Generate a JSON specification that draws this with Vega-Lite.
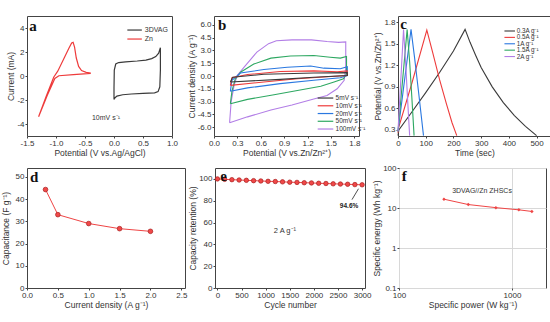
{
"$schema": "https://vega.github.io/schema/vega-lite/v6.json",
"background": "white",
"padding": {"left": 0, "top": 15, "right": 2, "bottom": 2},
"config": {
  "font": "Liberation Sans",
  "view": {"stroke": "#444", "strokeWidth": 1},
  "axis": {"domain": false, "grid": false, "labelFontSize": 8, "titleFontSize": 8.5, "titleFontWeight": "normal", "tickColor": "#444", "tickSize": 2, "labelColor": "#333", "titleColor": "#333", "labelPadding": 1, "titlePadding": 1, "labelOverlap": false, "labelFlush": false, "labelBound": false}
},
"datasets": {
"cvA": [
{"sa":"3DVAG","i":0,"x":0.0,"y":-1.95},{"sa":"3DVAG","i":1,"x":0.0,"y":-1.0},{"sa":"3DVAG","i":2,"x":0.005,"y":0.5},{"sa":"3DVAG","i":3,"x":0.03,"y":1.0},{"sa":"3DVAG","i":4,"x":0.08,"y":1.12},{"sa":"3DVAG","i":5,"x":0.2,"y":1.18},{"sa":"3DVAG","i":6,"x":0.4,"y":1.25},{"sa":"3DVAG","i":7,"x":0.55,"y":1.33},{"sa":"3DVAG","i":8,"x":0.65,"y":1.45},{"sa":"3DVAG","i":9,"x":0.72,"y":1.62},{"sa":"3DVAG","i":10,"x":0.77,"y":1.9},{"sa":"3DVAG","i":11,"x":0.8,"y":2.35},{"sa":"3DVAG","i":12,"x":0.8,"y":0.5},{"sa":"3DVAG","i":13,"x":0.79,"y":-0.9},{"sa":"3DVAG","i":14,"x":0.76,"y":-1.3},{"sa":"3DVAG","i":15,"x":0.7,"y":-1.4},{"sa":"3DVAG","i":16,"x":0.5,"y":-1.45},{"sa":"3DVAG","i":17,"x":0.3,"y":-1.5},{"sa":"3DVAG","i":18,"x":0.15,"y":-1.56},{"sa":"3DVAG","i":19,"x":0.05,"y":-1.68},{"sa":"3DVAG","i":20,"x":0.01,"y":-1.85},{"sa":"3DVAG","i":21,"x":0.0,"y":-1.95},
{"sa":"Zn","i":0,"x":-0.4,"y":0.22},{"sa":"Zn","i":1,"x":-0.7,"y":0.12},{"sa":"Zn","i":2,"x":-0.95,"y":0.02},{"sa":"Zn","i":3,"x":-1.02,"y":-0.2},{"sa":"Zn","i":4,"x":-1.15,"y":-1.6},{"sa":"Zn","i":5,"x":-1.3,"y":-3.4},{"sa":"Zn","i":6,"x":-1.17,"y":-1.7},{"sa":"Zn","i":7,"x":-1.04,"y":-0.1},{"sa":"Zn","i":8,"x":-0.97,"y":0.4},{"sa":"Zn","i":9,"x":-0.88,"y":1.3},{"sa":"Zn","i":10,"x":-0.78,"y":2.3},{"sa":"Zn","i":11,"x":-0.73,"y":2.75},{"sa":"Zn","i":12,"x":-0.705,"y":2.8},{"sa":"Zn","i":13,"x":-0.68,"y":2.4},{"sa":"Zn","i":14,"x":-0.65,"y":1.5},{"sa":"Zn","i":15,"x":-0.61,"y":0.8},{"sa":"Zn","i":16,"x":-0.56,"y":0.45},{"sa":"Zn","i":17,"x":-0.48,"y":0.3},{"sa":"Zn","i":18,"x":-0.4,"y":0.25}
],
"legA": [
{"sa":"3DVAG","x":0.23,"x2":0.48,"y":3.83},
{"sa":"Zn","x":0.23,"x2":0.48,"y":3.08}
],
"txtA": [
{"x":0.53,"y":3.83,"lab":"3DVAG"},
{"x":0.53,"y":3.08,"lab":"Zn"},
{"x":-0.38,"y":-3.5,"lab":"10mV s\u207B\u00B9"}
],
"cvB": [
{"sb":"100","i":0,"x":0.2,"y":-5.5},{"sb":"100","i":1,"x":0.22,"y":-3.0},{"sb":"100","i":2,"x":0.26,"y":-1.0},{"sb":"100","i":3,"x":0.3,"y":0.1},{"sb":"100","i":4,"x":0.4,"y":1.2},{"sb":"100","i":5,"x":0.55,"y":2.8},{"sb":"100","i":6,"x":0.7,"y":3.8},{"sb":"100","i":7,"x":0.8,"y":4.15},{"sb":"100","i":8,"x":1.0,"y":4.25},{"sb":"100","i":9,"x":1.25,"y":4.25},{"sb":"100","i":10,"x":1.45,"y":4.05},{"sb":"100","i":11,"x":1.6,"y":3.95},{"sb":"100","i":12,"x":1.69,"y":4.0},{"sb":"100","i":13,"x":1.69,"y":1.0},{"sb":"100","i":14,"x":1.67,"y":-0.5},{"sb":"100","i":15,"x":1.58,"y":-1.5},{"sb":"100","i":16,"x":1.45,"y":-2.3},{"sb":"100","i":17,"x":1.28,"y":-2.7},{"sb":"100","i":18,"x":1.0,"y":-3.4},{"sb":"100","i":19,"x":0.73,"y":-4.0},{"sb":"100","i":20,"x":0.43,"y":-4.8},{"sb":"100","i":21,"x":0.2,"y":-5.5},
{"sb":"50","i":0,"x":0.21,"y":-3.25},{"sb":"50","i":1,"x":0.23,"y":-1.8},{"sb":"50","i":2,"x":0.27,"y":-0.4},{"sb":"50","i":3,"x":0.34,"y":0.45},{"sb":"50","i":4,"x":0.51,"y":1.4},{"sb":"50","i":5,"x":0.73,"y":2.1},{"sb":"50","i":6,"x":0.98,"y":2.35},{"sb":"50","i":7,"x":1.28,"y":2.4},{"sb":"50","i":8,"x":1.49,"y":2.2},{"sb":"50","i":9,"x":1.62,"y":2.1},{"sb":"50","i":10,"x":1.7,"y":2.3},{"sb":"50","i":11,"x":1.7,"y":0.25},{"sb":"50","i":12,"x":1.66,"y":-0.33},{"sb":"50","i":13,"x":1.54,"y":-0.7},{"sb":"50","i":14,"x":1.37,"y":-1.2},{"sb":"50","i":15,"x":1.07,"y":-1.7},{"sb":"50","i":16,"x":0.77,"y":-2.2},{"sb":"50","i":17,"x":0.43,"y":-2.75},{"sb":"50","i":18,"x":0.21,"y":-3.25},
{"sb":"20","i":0,"x":0.21,"y":-1.8},{"sb":"20","i":1,"x":0.23,"y":-0.5},{"sb":"20","i":2,"x":0.34,"y":0.35},{"sb":"20","i":3,"x":0.64,"y":0.76},{"sb":"20","i":4,"x":0.94,"y":1.03},{"sb":"20","i":5,"x":1.24,"y":1.18},{"sb":"20","i":6,"x":1.41,"y":0.92},{"sb":"20","i":7,"x":1.62,"y":0.85},{"sb":"20","i":8,"x":1.71,"y":1.1},{"sb":"20","i":9,"x":1.71,"y":0.06},{"sb":"20","i":10,"x":1.62,"y":-0.2},{"sb":"20","i":11,"x":1.28,"y":-0.5},{"sb":"20","i":12,"x":0.85,"y":-0.9},{"sb":"20","i":13,"x":0.43,"y":-1.4},{"sb":"20","i":14,"x":0.21,"y":-1.8},
{"sb":"10","i":0,"x":0.21,"y":-1.1},{"sb":"10","i":1,"x":0.23,"y":-0.2},{"sb":"10","i":2,"x":0.43,"y":0.17},{"sb":"10","i":3,"x":0.85,"y":0.52},{"sb":"10","i":4,"x":1.28,"y":0.6},{"sb":"10","i":5,"x":1.58,"y":0.5},{"sb":"10","i":6,"x":1.71,"y":0.6},{"sb":"10","i":7,"x":1.71,"y":0.06},{"sb":"10","i":8,"x":1.5,"y":-0.05},{"sb":"10","i":9,"x":1.07,"y":-0.33},{"sb":"10","i":10,"x":0.64,"y":-0.7},{"sb":"10","i":11,"x":0.21,"y":-1.1},
{"sb":"5","i":0,"x":0.21,"y":-0.7},{"sb":"5","i":1,"x":0.24,"y":-0.14},{"sb":"5","i":2,"x":0.64,"y":0.2},{"sb":"5","i":3,"x":1.28,"y":0.35},{"sb":"5","i":4,"x":1.71,"y":0.4},{"sb":"5","i":5,"x":1.71,"y":0.06},{"sb":"5","i":6,"x":1.28,"y":-0.14},{"sb":"5","i":7,"x":0.85,"y":-0.4},{"sb":"5","i":8,"x":0.21,"y":-0.7}
],
"legB": [
{"sb":"5","x":1.33,"x2":1.53,"y":-2.59},
{"sb":"10","x":1.33,"x2":1.53,"y":-3.5},
{"sb":"20","x":1.33,"x2":1.53,"y":-4.41},
{"sb":"50","x":1.33,"x2":1.53,"y":-5.32},
{"sb":"100","x":1.33,"x2":1.53,"y":-6.23}
],
"txtB": [
{"x":1.56,"y":-2.59,"lab":"5mV s\u207B\u00B9"},
{"x":1.56,"y":-3.5,"lab":"10mV s\u207B\u00B9"},
{"x":1.56,"y":-4.41,"lab":"20mV s\u207B\u00B9"},
{"x":1.56,"y":-5.32,"lab":"50mV s\u207B\u00B9"},
{"x":1.56,"y":-6.23,"lab":"100mV s\u207B\u00B9"}
],
"gcd": [
{"sc":"0.3","i":0,"t":0,"v":0.22},{"sc":"0.3","i":1,"t":3,"v":0.3},{"sc":"0.3","i":2,"t":50,"v":0.55},{"sc":"0.3","i":3,"t":100,"v":0.82},{"sc":"0.3","i":4,"t":150,"v":1.1},{"sc":"0.3","i":5,"t":200,"v":1.4},{"sc":"0.3","i":6,"t":242,"v":1.7},{"sc":"0.3","i":7,"t":260,"v":1.52},{"sc":"0.3","i":8,"t":280,"v":1.34},{"sc":"0.3","i":9,"t":300,"v":1.17},{"sc":"0.3","i":10,"t":340,"v":0.9},{"sc":"0.3","i":11,"t":380,"v":0.68},{"sc":"0.3","i":12,"t":420,"v":0.5},{"sc":"0.3","i":13,"t":460,"v":0.35},{"sc":"0.3","i":14,"t":500,"v":0.22},
{"sc":"0.5","i":0,"t":0,"v":0.26},{"sc":"0.5","i":1,"t":2,"v":0.33},{"sc":"0.5","i":2,"t":50,"v":0.95},{"sc":"0.5","i":3,"t":104,"v":1.69},{"sc":"0.5","i":4,"t":125,"v":1.38},{"sc":"0.5","i":5,"t":150,"v":1.0},{"sc":"0.5","i":6,"t":175,"v":0.66},{"sc":"0.5","i":7,"t":195,"v":0.4},{"sc":"0.5","i":8,"t":212,"v":0.22},
{"sc":"1","i":0,"t":0,"v":0.28},{"sc":"1","i":1,"t":47,"v":1.7},{"sc":"1","i":2,"t":60,"v":1.3},{"sc":"1","i":3,"t":75,"v":0.8},{"sc":"1","i":4,"t":92,"v":0.22},
{"sc":"1.5","i":0,"t":0,"v":0.28},{"sc":"1.5","i":1,"t":33,"v":1.7},{"sc":"1.5","i":2,"t":42,"v":1.25},{"sc":"1.5","i":3,"t":50,"v":0.75},{"sc":"1.5","i":4,"t":58,"v":0.22},
{"sc":"2","i":0,"t":0,"v":0.28},{"sc":"2","i":1,"t":20,"v":1.7},{"sc":"2","i":2,"t":28,"v":1.2},{"sc":"2","i":3,"t":35,"v":0.7},{"sc":"2","i":4,"t":42,"v":0.22}
],
"legC": [
{"sc":"0.3","t":384,"t2":422,"v":1.678},
{"sc":"0.5","t":384,"t2":422,"v":1.589},
{"sc":"1","t":384,"t2":422,"v":1.5},
{"sc":"1.5","t":384,"t2":422,"v":1.411},
{"sc":"2","t":384,"t2":422,"v":1.322}
],
"txtC": [
{"t":428,"v":1.678,"lab":"0.3A g\u207B\u00B9"},
{"t":428,"v":1.589,"lab":"0.5A g\u207B\u00B9"},
{"t":428,"v":1.5,"lab":"1A g\u207B\u00B9"},
{"t":428,"v":1.411,"lab":"1.5A g\u207B\u00B9"},
{"t":428,"v":1.322,"lab":"2A g\u207B\u00B9"}
],
"cap": [
{"j":0.3,"c":44.3},{"j":0.5,"c":33.0},{"j":1.0,"c":29.0},{"j":1.5,"c":26.7},{"j":2.0,"c":25.5}
],
"cyc": [
{"n":0,"r":100.0},{"n":150,"r":99.6},{"n":300,"r":99.3},{"n":450,"r":99.0},{"n":600,"r":98.7},{"n":750,"r":98.4},{"n":900,"r":98.1},{"n":1050,"r":97.8},{"n":1200,"r":97.6},{"n":1350,"r":97.3},{"n":1500,"r":97.0},{"n":1650,"r":96.8},{"n":1800,"r":96.5},{"n":1950,"r":96.3},{"n":2100,"r":96.0},{"n":2250,"r":95.8},{"n":2400,"r":95.5},{"n":2550,"r":95.3},{"n":2700,"r":95.1},{"n":2850,"r":94.8},{"n":3000,"r":94.6}
],
"rag": [
{"p":250,"e":16.6},{"p":410,"e":12.2},{"p":720,"e":10.2},{"p":1150,"e":9.0},{"p":1500,"e":8.2}
]
},
"spacing": 6,
"vconcat": [
{
"spacing": 7,
"resolve": {"scale": {"color": "independent"}},
"hconcat": [
{
"width": 145, "height": 120,
"encoding": {
  "x": {"field": "x", "type": "quantitative", "scale": {"domain": [-1.5, 1.0], "nice": false, "zero": false}, "axis": {"values": [-1.5, -1, -0.5, 0, 0.5, 1], "labelExpr": "replace(format(datum.value, '.1f'), '\u2212', '-')", "title": "Potential (V vs.Ag/AgCl)"}},
  "y": {"field": "y", "type": "quantitative", "scale": {"domain": [-5, 5], "nice": false}, "axis": {"values": [-4, -2, 0, 2, 4], "labelExpr": "replace(format(datum.value, 'd'), '\u2212', '-')", "title": "Current (mA)"}}
},
"layer": [
{"data": {"name": "cvA"}, "mark": {"type": "line", "strokeWidth": 1.2},
 "encoding": {
  "color": {"field": "sa", "type": "nominal", "scale": {"domain": ["3DVAG", "Zn"], "range": ["#3a3a3a", "#ee3b3b"]}, "legend": null},
  "order": {"field": "i", "type": "quantitative"}
 }},
{"data": {"name": "legA"}, "mark": {"type": "rule", "strokeWidth": 1.2},
 "encoding": {"x2": {"field": "x2"}, "color": {"field": "sa", "type": "nominal", "legend": null}}},
{"data": {"name": "txtA"}, "mark": {"type": "text", "fontSize": 7, "align": "left", "color": "#333"},
 "encoding": {"text": {"field": "lab"}}},
{"data": {"values": [{"x": -1.46, "y": 4.75, "lab": "a"}]}, "mark": {"type": "text", "font": "Liberation Serif", "fontWeight": "bold", "fontSize": 15, "align": "left", "baseline": "top", "color": "#111"},
 "encoding": {"text": {"field": "lab"}}}
]
},
{
"width": 145, "height": 120,
"encoding": {
  "x": {"field": "x", "type": "quantitative", "scale": {"domain": [0, 1.86], "nice": false}, "axis": {"values": [0, 0.3, 0.6, 0.9, 1.2, 1.5, 1.8], "format": ".1f", "title": "Potential (V vs.Zn/Zn\u00B2\u207A)"}},
  "y": {"field": "y", "type": "quantitative", "scale": {"domain": [-7.05, 7.05], "nice": false}, "axis": {"values": [-6, -4.5, -3, -1.5, 0, 1.5, 3, 4.5, 6], "labelExpr": "replace(format(datum.value, '.1f'), '\u2212', '-')", "title": "Current density (A g\u207B\u00B9)"}}
},
"layer": [
{"data": {"name": "cvB"}, "mark": {"type": "line", "strokeWidth": 1.1},
 "encoding": {
  "color": {"field": "sb", "type": "nominal", "scale": {"domain": ["5", "10", "20", "50", "100"], "range": ["#3a3a3a", "#ee3b3b", "#2a78e0", "#2ea862", "#b27ee6"]}, "legend": null},
  "order": {"field": "i", "type": "quantitative"}
 }},
{"data": {"name": "legB"}, "mark": {"type": "rule", "strokeWidth": 1.2},
 "encoding": {"x2": {"field": "x2"}, "color": {"field": "sb", "type": "nominal", "legend": null}}},
{"data": {"name": "txtB"}, "mark": {"type": "text", "fontSize": 6.5, "align": "left", "color": "#333"},
 "encoding": {"text": {"field": "lab"}}},
{"data": {"values": [{"x": 0.05, "y": 6.8, "lab": "b"}]}, "mark": {"type": "text", "font": "Liberation Serif", "fontWeight": "bold", "fontSize": 15, "align": "left", "baseline": "top", "color": "#111"},
 "encoding": {"text": {"field": "lab"}}}
]
},
{
"width": 153, "height": 120,
"encoding": {
  "x": {"field": "t", "type": "quantitative", "scale": {"domain": [0, 552], "nice": false}, "axis": {"values": [0, 100, 200, 300, 400, 500], "title": "Time (sec)"}},
  "y": {"field": "v", "type": "quantitative", "scale": {"domain": [0.215, 1.887], "nice": false, "zero": false}, "axis": {"values": [0.3, 0.6, 0.9, 1.2, 1.5, 1.8], "format": ".1f", "title": "Potential (V vs.Zn/Zn\u00B2\u207A)"}}
},
"layer": [
{"data": {"name": "gcd"}, "mark": {"type": "line", "strokeWidth": 1.1},
 "encoding": {
  "color": {"field": "sc", "type": "nominal", "scale": {"domain": ["0.3", "0.5", "1", "1.5", "2"], "range": ["#3a3a3a", "#ee3b3b", "#2a78e0", "#2ea862", "#b27ee6"]}, "legend": null},
  "order": {"field": "i", "type": "quantitative"}
 }},
{"data": {"name": "legC"}, "mark": {"type": "rule", "strokeWidth": 1.1},
 "encoding": {"x2": {"field": "t2"}, "color": {"field": "sc", "type": "nominal", "legend": null}}},
{"data": {"name": "txtC"}, "mark": {"type": "text", "fontSize": 6.3, "align": "left", "color": "#333"},
 "encoding": {"text": {"field": "lab"}}},
{"data": {"values": [{"t": 8, "v": 1.87, "lab": "c"}]}, "mark": {"type": "text", "font": "Liberation Serif", "fontWeight": "bold", "fontSize": 15, "align": "left", "baseline": "top", "color": "#111"},
 "encoding": {"text": {"field": "lab"}}}
]
}
]
},
{
"spacing": 0,
"hconcat": [
{
"width": 158, "height": 120,
"encoding": {
  "x": {"field": "j", "type": "quantitative", "scale": {"domain": [0, 2.56], "nice": false}, "axis": {"values": [0, 0.5, 1, 1.5, 2, 2.5], "format": ".1f", "title": "Current density (A g\u207B\u00B9)"}},
  "y": {"field": "c", "type": "quantitative", "scale": {"domain": [0, 54], "nice": false}, "axis": {"values": [0, 10, 20, 30, 40, 50], "title": "Capacitance (F g\u207B\u00B9)", "titlePadding": 5}}
},
"layer": [
{"data": {"name": "cap"}, "mark": {"type": "line", "strokeWidth": 1, "color": "#ef4545"}},
{"data": {"name": "cap"}, "mark": {"type": "point", "filled": true, "size": 22, "color": "#f04848", "stroke": "#a82020", "strokeWidth": 0.7, "opacity": 1}},
{"data": {"values": [{"j": 0.05, "c": 53, "lab": "d"}]}, "mark": {"type": "text", "font": "Liberation Serif", "fontWeight": "bold", "fontSize": 15, "align": "left", "baseline": "top", "color": "#111"},
 "encoding": {"text": {"field": "lab"}}}
]
},
{
"width": 150, "height": 120,
"encoding": {
  "x": {"field": "n", "type": "quantitative", "scale": {"domain": [-50, 3060], "nice": false, "zero": false}, "axis": {"values": [0, 500, 1000, 1500, 2000, 2500, 3000], "format": "d", "title": "Cycle number"}},
  "y": {"field": "r", "type": "quantitative", "scale": {"domain": [0, 110], "nice": false}, "axis": {"values": [0, 20, 40, 60, 80, 100], "title": "Capacity retention (%)"}}
},
"layer": [
{"data": {"name": "cyc"}, "mark": {"type": "line", "strokeWidth": 1, "color": "#ef4545"}},
{"data": {"name": "cyc"}, "mark": {"type": "point", "filled": true, "size": 20, "color": "#f04848", "stroke": "#a82020", "strokeWidth": 0.7, "opacity": 1}},
{"data": {"values": [{"n": 2790, "r": 81, "n2": 2925, "r2": 91}]}, "mark": {"type": "rule", "strokeWidth": 0.8, "color": "#222"},
 "encoding": {"x2": {"field": "n2"}, "y2": {"field": "r2"}}},
{"data": {"values": [{"n": 2730, "r": 75, "lab": "94.6%"}]}, "mark": {"type": "text", "fontSize": 6.5, "fontWeight": "bold", "color": "#222"},
 "encoding": {"text": {"field": "lab"}}},
{"data": {"values": [{"n": 1400, "r": 52, "lab": "2 A g\u207B\u00B9"}]}, "mark": {"type": "text", "fontSize": 7.5, "color": "#333"},
 "encoding": {"text": {"field": "lab"}}},
{"data": {"values": [{"n": 60, "r": 109, "lab": "e"}]}, "mark": {"type": "text", "font": "Liberation Serif", "fontWeight": "bold", "fontSize": 15, "align": "left", "baseline": "top", "color": "#111"},
 "encoding": {"text": {"field": "lab"}}}
]
},
{
"width": 147, "height": 120,
"encoding": {
  "x": {"field": "p", "type": "quantitative", "scale": {"type": "log", "domain": [100, 2000], "nice": false}, "axis": {"values": [100, 1000], "format": "d", "grid": true, "gridColor": "#d8d8d8", "title": "Specific power (W kg\u207B\u00B9)"}},
  "y": {"field": "e", "type": "quantitative", "scale": {"type": "log", "domain": [0.1, 100], "nice": false}, "axis": {"values": [0.1, 1, 10, 100], "format": "~g", "grid": true, "gridColor": "#d8d8d8", "title": "Specific energy (Wh kg\u207B\u00B9)"}}
},
"layer": [
{"data": {"name": "rag"}, "mark": {"type": "line", "strokeWidth": 1, "color": "#ef4545"}},
{"data": {"name": "rag"}, "mark": {"type": "point", "filled": true, "size": 12, "shape": "diamond", "color": "#ef4545", "opacity": 1}},
{"data": {"values": [{"p": 543, "e": 26, "lab": "3DVAG//Zn ZHSCs"}]}, "mark": {"type": "text", "fontSize": 7, "color": "#333"},
 "encoding": {"text": {"field": "lab"}}},
{"data": {"values": [{"p": 106, "e": 95, "lab": "f"}]}, "mark": {"type": "text", "font": "Liberation Serif", "fontWeight": "bold", "fontSize": 15, "align": "left", "baseline": "top", "color": "#111"},
 "encoding": {"text": {"field": "lab"}}}
]
}
]
}
]
}
